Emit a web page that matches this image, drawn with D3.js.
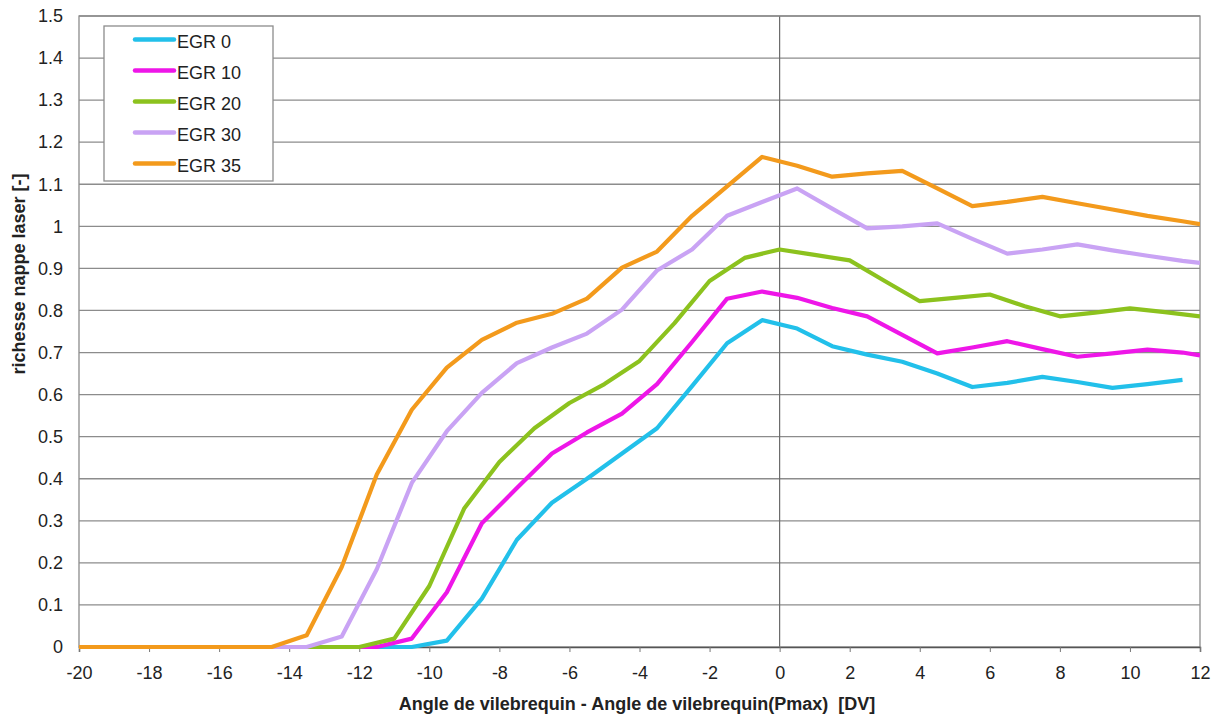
<!DOCTYPE html>
<html><head><meta charset="utf-8">
<script src="https://cdn.jsdelivr.net/npm/d3@7"></script>
<style>body{margin:0;background:#fff;}svg{display:block;font-family:"Liberation Sans",Arial,sans-serif;}</style>
</head><body><svg id="c" width="1219" height="717"></svg>
<script>
const seriesNames = ["EGR 0","EGR 10","EGR 20","EGR 30","EGR 35"];
const seriesColors = ["#22c0ea","#ee16e8","#8cc21e","#c9a3f4","#f39a1c"];
const xEGR0 = [-20,-10.5,-9.5,-8.5,-7.5,-6.5,-5.5,-4.5,-3.5,-2.5,-1.5,-0.5,0.5,1.5,2.5,3.5,4.5,5.5,6.5,7.5,8.5,9.5,10.5,11.5];
const yEGR0 = [0,0,0.015,0.115,0.255,0.343,0.40,0.46,0.52,0.62,0.722,0.777,0.757,0.715,0.695,0.678,0.65,0.618,0.628,0.642,0.63,0.616,0.625,0.635];
const xEGR10 = [-20,-11.5,-10.5,-9.5,-8.5,-7.5,-6.5,-5.5,-4.5,-3.5,-2.5,-1.5,-0.5,0.5,1.5,2.5,3.5,4.5,5.5,6.5,7.5,8.5,9.5,10.5,11.5,12];
const yEGR10 = [0,0,0.02,0.13,0.294,0.378,0.46,0.51,0.555,0.625,0.725,0.828,0.845,0.83,0.806,0.786,0.742,0.698,0.712,0.727,0.708,0.69,0.698,0.707,0.70,0.693];
const xEGR20 = [-20,-12,-11,-10,-9,-8,-7,-6,-5,-4,-3,-2,-1,0,1,2,3,4,5,6,7,8,9,10,11,12];
const yEGR20 = [0,0,0.02,0.145,0.33,0.44,0.52,0.58,0.625,0.68,0.77,0.87,0.925,0.945,0.932,0.919,0.87,0.822,0.83,0.838,0.81,0.786,0.795,0.805,0.796,0.786];
const xEGR30 = [-20,-13.5,-12.5,-11.5,-10.5,-9.5,-8.5,-7.5,-6.5,-5.5,-4.5,-3.5,-2.5,-1.5,-0.5,0.5,1.5,2.5,3.5,4.5,5.5,6.5,7.5,8.5,9.5,10.5,11.5,12];
const yEGR30 = [0,0,0.025,0.185,0.39,0.513,0.604,0.675,0.712,0.745,0.802,0.895,0.945,1.025,1.058,1.09,1.042,0.995,1.0,1.007,0.97,0.935,0.945,0.957,0.943,0.93,0.918,0.913];
const xEGR35 = [-20,-14.5,-13.5,-12.5,-11.5,-10.5,-9.5,-8.5,-7.5,-6.5,-5.5,-4.5,-3.5,-2.5,-1.5,-0.5,0.5,1.5,2.5,3.5,4.5,5.5,6.5,7.5,8.5,9.5,10.5,11.5,12];
const yEGR35 = [0,0,0.028,0.19,0.41,0.564,0.664,0.73,0.771,0.792,0.828,0.902,0.94,1.025,1.095,1.165,1.144,1.118,1.126,1.132,1.09,1.048,1.058,1.07,1.055,1.04,1.025,1.012,1.005];
const xTicks = [-20,-18,-16,-14,-12,-10,-8,-6,-4,-2,0,2,4,6,8,10,12];
const yTicks = [0,0.1,0.2,0.3,0.4,0.5,0.6,0.7,0.8,0.9,1,1.1,1.2,1.3,1.4,1.5];
const xLabel = "Angle de vilebrequin - Angle de vilebrequin(Pmax)  [DV]";
const yLabel = "richesse nappe laser [-]";

const xs = [xEGR0,xEGR10,xEGR20,xEGR30,xEGR35];
const ys = [yEGR0,yEGR10,yEGR20,yEGR30,yEGR35];

const L=79,R=1200,T=16,B=647;
const svg=d3.select("#c");
const x=d3.scaleLinear().domain([-20,12]).range([L,R]);
const y=d3.scaleLinear().domain([0,1.5]).range([B,T]);

// gridlines
svg.append("g").selectAll("line").data(yTicks.filter(v=>v>0)).join("line")
  .attr("x1",L).attr("x2",R).attr("y1",d=>y(d)).attr("y2",d=>y(d))
  .attr("stroke","#8c8c8c").attr("stroke-width",1.3);
// vertical zero line
svg.append("line").attr("x1",x(0)).attr("x2",x(0)).attr("y1",T).attr("y2",B)
  .attr("stroke","#6a6a6a").attr("stroke-width",1.2);
// border
svg.append("rect").attr("x",L).attr("y",T).attr("width",R-L).attr("height",B-T)
  .attr("fill","none").attr("stroke","#8c8c8c").attr("stroke-width",1.3);

// axes
const xAxis=svg.append("g").attr("transform",`translate(0,${B})`)
  .call(d3.axisBottom(x).tickValues(xTicks).tickSize(5).tickPadding(14).tickFormat(d=>String(d)));
xAxis.select(".domain").attr("stroke","#555").attr("stroke-width",1.5);
xAxis.selectAll(".tick line").attr("stroke","#777");
xAxis.selectAll("text").attr("font-size",18).attr("fill","#222");
const yAxis=svg.append("g").attr("transform",`translate(${L},0)`)
  .call(d3.axisLeft(y).tickValues(yTicks).tickSize(0).tickPadding(16).tickFormat(d=>String(d)));
yAxis.select(".domain").remove();
yAxis.selectAll("text").attr("font-size",18).attr("fill","#222");

// lines
const line=d3.line().x(d=>x(d[0])).y(d=>y(d[1]));
svg.append("clipPath").attr("id","pc").append("rect").attr("x",L).attr("y",T-5).attr("width",R-L).attr("height",B-T+10);
const g=svg.append("g").attr("clip-path","url(#pc)");
seriesNames.forEach((n,i)=>{
  const pts=xs[i].map((v,j)=>[v,ys[i][j]]);
  g.append("path").datum(pts).attr("d",line).attr("fill","none")
   .attr("stroke",seriesColors[i]).attr("stroke-width",4.2).attr("stroke-linejoin","round");
});

// legend
const lg=svg.append("g");
lg.append("rect").attr("x",104).attr("y",26).attr("width",169).attr("height",155)
  .attr("fill","#fff").attr("stroke","#8c8c8c").attr("stroke-width",1.3);
seriesNames.forEach((n,i)=>{
  const yy=39.5+i*31;
  lg.append("line").attr("x1",135).attr("x2",174).attr("y1",yy).attr("y2",yy)
    .attr("stroke",seriesColors[i]).attr("stroke-width",4.5).attr("stroke-linecap","round");
  lg.append("text").attr("x",177).attr("y",yy+8).attr("font-size",18).attr("fill","#222").text(n);
});

// axis titles
svg.append("text").attr("x",637).attr("y",710).attr("text-anchor","middle")
  .style("white-space","pre")
  .attr("font-size",18).attr("font-weight","bold").attr("fill","#222").text(xLabel);
svg.append("text").attr("transform",`translate(25,274) rotate(-90)`).attr("text-anchor","middle")
  .attr("font-size",18).attr("font-weight","bold").attr("fill","#222").text(yLabel);
</script></body></html>
